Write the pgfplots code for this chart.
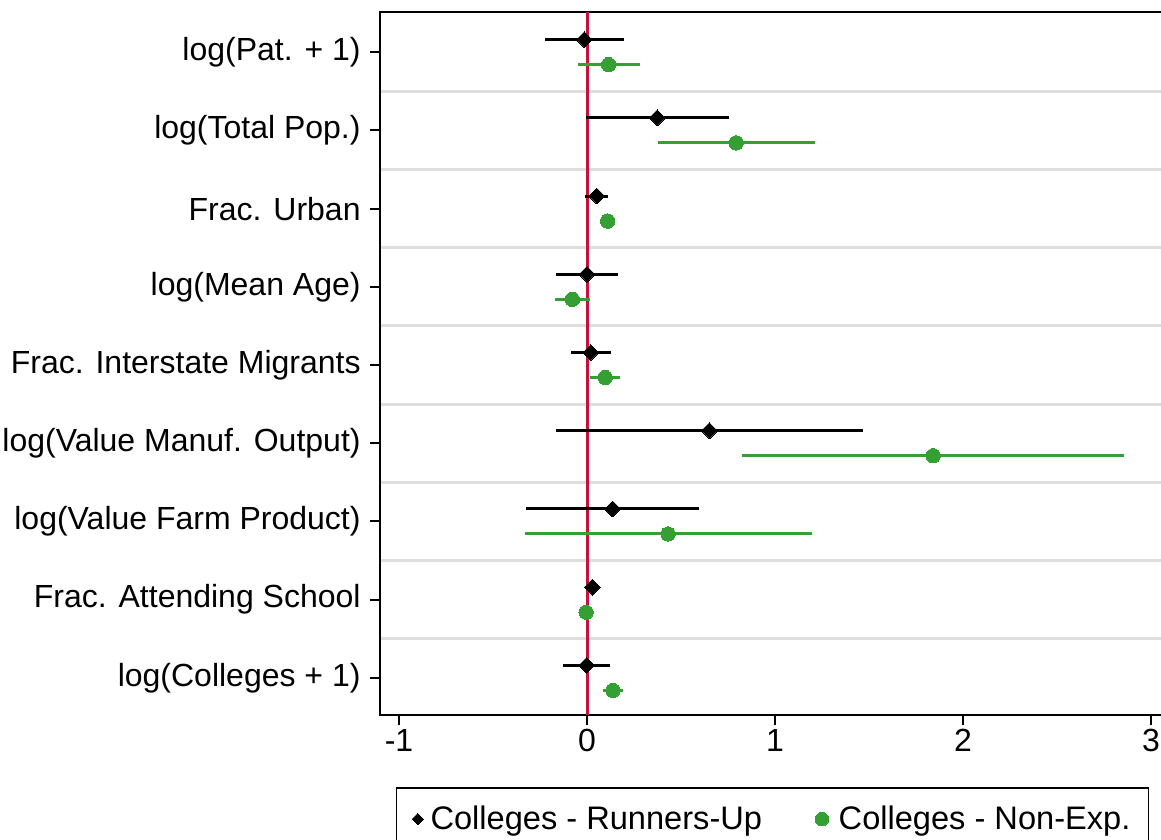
\documentclass[border=0pt]{standalone}
\usepackage{pgfplots}
\pgfplotsset{compat=1.18}
\usepackage{pgfplotstable}
\usepackage{fontspec}
\setmainfont{Liberation Sans}
\definecolor{ciblack}{RGB}{0,0,0}
\definecolor{cigreen}{RGB}{52,160,52}
\definecolor{zeroline}{RGB}{200,16,56}
\definecolor{gridgray}{RGB}{222,222,222}

\pgfplotsset{
  diamondlegend/.style={legend image code/.code={\path (-3.2bp,0bp) (4bp,0bp); \draw[##1, mark size=2bp] plot coordinates {(0bp,0bp)};}},
  circlelegend/.style={legend image code/.code={\path (-3.5bp,0bp) (6bp,0bp); \draw[##1, mark size=3.4bp] plot coordinates {(0bp,0bp)};}},
}

\pgfplotstableread{
y x lo hi
9.16 -0.014 -0.223 0.197
8.16 0.374 -0.004 0.755
7.16 0.052 -0.009 0.112
6.16 0.000 -0.167 0.167
5.16 0.020 -0.087 0.128
4.16 0.651 -0.165 1.469
3.16 0.136 -0.322 0.593
2.16 0.028 0.005 0.050
1.16 -0.002 -0.126 0.122
}\runnersup

\pgfplotstableread{
y x lo hi
8.84 0.115 -0.048 0.280
7.84 0.793 0.378 1.213
6.84 0.110 0.080 0.140
5.84 -0.078 -0.172 0.016
4.84 0.097 0.018 0.176
3.84 1.841 0.824 2.857
2.84 0.431 -0.329 1.198
1.84 -0.005 -0.020 0.010
0.84 0.138 0.083 0.190
}\nonexp

\begin{document}
\begin{tikzpicture}[font=\fontsize{16bp}{19bp}\selectfont]
\begin{axis}[
  scale only axis,
  width=392.5bp, height=351.5bp,
  xmin=-1.101, xmax=3.074,
  ymin=0.526, ymax=9.513,
  xtick={-1,0,1,2,3},
  xticklabels={-1,0,1,2,3},
  ytick={1,2,3,4,5,6,7,8,9},
  yticklabels={log(Colleges + 1),Frac. Attending School,log(Value Farm Product),log(Value Manuf. Output),Frac. Interstate Migrants,log(Mean Age),Frac. Urban,log(Total Pop.),log(Pat. + 1)},
  minor ytick={1.5,2.5,3.5,4.5,5.5,6.5,7.5,8.5},
  yminorgrids=true,
  ymajorgrids=false,
  xmajorgrids=false,
  minor y grid style={gridgray, line width=1.5bp},
  minor tick length=0pt,
  major tick length=5bp,
  tick align=outside,
  xtick pos=bottom,
  ytick pos=left,
  tick style={black, line width=1bp},
  axis line style={black, line width=1bp},
  yticklabel style={inner sep=2bp, xshift=-2.5bp},
  xticklabel style={inner sep=2bp},
  legend style={at={(0.5,-0.1024)}, anchor=north, legend columns=2,
    draw=black, line width=0.8bp, inner xsep=7bp, inner ysep=7bp,
    /tikz/every even column/.append style={column sep=24bp},
    font=\fontsize{16.3bp}{19bp}\selectfont},
  legend cell align=left,
]
\addplot[zeroline, line width=1.5bp, forget plot] coordinates {(0,0.526) (0,9.513)};

\addplot[only marks, mark=square*, mark size=2.8bp,
  mark options={rotate=45, fill=ciblack, draw=ciblack, line width=0pt},
  diamondlegend,
  error bars/.cd, x dir=both, x explicit, error mark=none,
  error bar style={ciblack, line width=1.5bp}]
  table[x=x, y=y, x error minus expr=\thisrow{x}-\thisrow{lo}, x error plus expr=\thisrow{hi}-\thisrow{x}] {\runnersup};
\addlegendentry{Colleges - Runners-Up}

\addplot[only marks, mark=*, mark size=3.6bp,
  mark options={fill=cigreen, draw=cigreen, line width=0pt},
  circlelegend,
  error bars/.cd, x dir=both, x explicit, error mark=none,
  error bar style={cigreen, line width=1.5bp}]
  table[x=x, y=y, x error minus expr=\thisrow{x}-\thisrow{lo}, x error plus expr=\thisrow{hi}-\thisrow{x}] {\nonexp};
\addlegendentry{Colleges - Non-Exp.}
\end{axis}
\pgfresetboundingbox
\useasboundingbox (-190bp,-62.5bp) rectangle (390.5bp,357.5bp);
\end{tikzpicture}
\end{document}
